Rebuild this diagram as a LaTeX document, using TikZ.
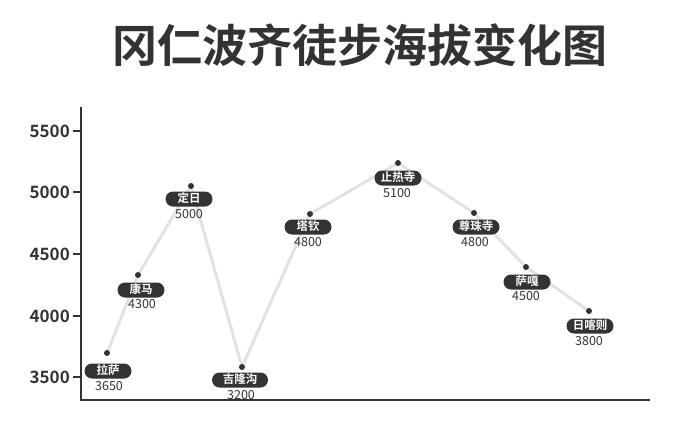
\documentclass[tikz,border=0pt]{standalone}
\usepackage{fontspec}
\newfontfamily\cjk[BoldFont={Noto Sans CJK SC Bold}]{Noto Sans CJK SC}
\definecolor{ink}{HTML}{333333}
\definecolor{trail}{HTML}{E2E2E2}
\begin{document}
\begin{tikzpicture}[x=1pt,y=-1pt,
  axisline/.style={draw=ink,line width=2pt},
  ticklab/.style={anchor=east,inner sep=0pt,text=ink,font=\cjk\bfseries\fontsize{17}{17}\selectfont},
  pill/.style={fill=ink,text=white,rounded corners=7.5pt,minimum width=47pt,minimum height=15pt,inner xsep=4pt,inner ysep=0pt,font=\cjk\bfseries\fontsize{11.5}{11.5}\selectfont,text height=9pt,text depth=1.5pt},
  val/.style={inner sep=0pt,text=ink,font=\cjk\fontsize{12.5}{12.5}\selectfont},
  dot/.style={circle,fill=ink,inner sep=0pt,minimum size=6pt},
  route/.style={draw=trail,line width=3pt,line join=round}]
\useasboundingbox (0,0) rectangle (690,424);
\node[text=ink,font=\cjk\bfseries\fontsize{45}{45}\selectfont,inner sep=0pt] (title) at (360,45) {冈仁波齐徒步海拔变化图};
% axes
\coordinate (o) at (81,400);
\coordinate (ytop) at (81,107);
\coordinate (xend) at (650,400);
\draw[axisline] (ytop) -- (o) -- (xend);
\foreach \v/\yy in {5500/131,5000/192,4500/254,4000/316,3500/377}{
  \coordinate (t\v) at (73,\yy);
  \coordinate (u\v) at (81,\yy);
  \draw[axisline] (t\v) -- (u\v);
  \node[ticklab] (l\v) at (70,\yy) {\v};
}
% points
\coordinate (p1) at (107,353);
\coordinate (p2) at (138,275);
\coordinate (p3) at (191,186);
\coordinate (p4) at (242,367);
\coordinate (p5) at (310,214);
\coordinate (p6) at (398,163);
\coordinate (p7) at (474,213);
\coordinate (p8) at (526,267);
\coordinate (p9) at (589,311);
\draw[route] (p1) -- (p2) -- (p3) -- (p4) -- (p5) -- (p6) -- (p7) -- (p8) -- (p9);
\foreach \i in {1,...,9}{\node[dot] (d\i) at (p\i) {};}
% labels
\node[pill] (n1) at (108,371) {拉萨};
\node[val] (v1) at (109,386) {3650};
\node[pill] (n2) at (141,290) {康马};
\node[val] (v2) at (142,304) {4300};
\node[pill] (n3) at (189,199) {定日};
\node[val] (v3) at (189,214) {5000};
\node[pill,minimum width=56pt] (n4) at (240,380) {吉隆沟};
\node[val] (v4) at (241,395) {3200};
\node[pill] (n5) at (308,227) {塔钦};
\node[val] (v5) at (308,242) {4800};
\node[pill] (n6) at (398,178) {止热寺};
\node[val] (v6) at (397,193) {5100};
\node[pill] (n7) at (476,227) {尊珠寺};
\node[val] (v7) at (475,242) {4800};
\node[pill] (n8) at (527,282) {萨嘎};
\node[val] (v8) at (526,296) {4500};
\node[pill] (n9) at (590,326) {日喀则};
\node[val] (v9) at (589,341) {3800};
\end{tikzpicture}
\end{document}
